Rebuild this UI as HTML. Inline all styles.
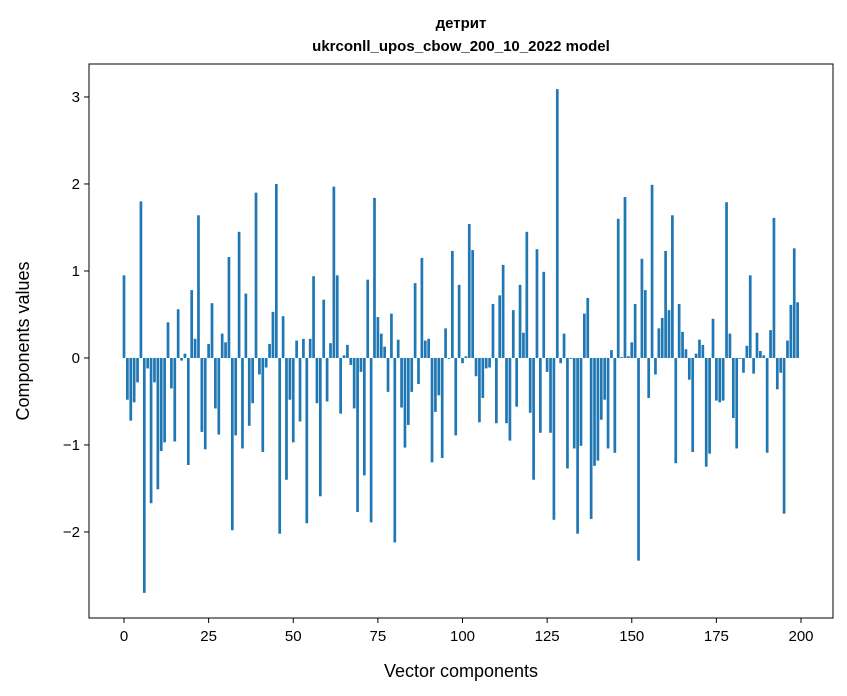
<!DOCTYPE html>
<html><head><meta charset="utf-8"><style>
body{margin:0;background:#fff;}
svg{display:block;font-family:"Liberation Sans","DejaVu Sans",sans-serif;}
</style></head><body>
<svg id="chart" width="847" height="696" viewBox="0 0 847 696">
<text x="461" y="28" text-anchor="middle" font-size="15" font-weight="bold">детрит</text>
<text x="461" y="51" text-anchor="middle" font-size="15" font-weight="bold">ukrconll_upos_cbow_200_10_2022 model</text>
<g id="bars"></g>
<g id="axes"></g>
<rect x="89" y="64" width="744" height="554" fill="none" stroke="#000" stroke-width="1"/>
<text x="461" y="677" text-anchor="middle" font-size="18">Vector components</text>
<text transform="translate(29,341) rotate(-90)" text-anchor="middle" font-size="18">Components values</text>
</svg>
<script>
const values = [0.95,-0.48,-0.72,-0.51,-0.28,1.80,-2.70,-0.12,-1.67,-0.28,
-1.51,-1.07,-0.97,0.41,-0.35,-0.96,0.56,-0.03,0.05,-1.23,
0.78,0.22,1.64,-0.85,-1.05,0.16,0.63,-0.58,-0.88,0.28,
0.18,1.16,-1.98,-0.89,1.45,-1.04,0.74,-0.78,-0.52,1.90,
-0.19,-1.08,-0.11,0.16,0.53,2.00,-2.02,0.48,-1.40,-0.48,
-0.97,0.20,-0.73,0.22,-1.90,0.22,0.94,-0.52,-1.59,0.67,
-0.50,0.17,1.97,0.95,-0.64,0.03,0.15,-0.08,-0.58,-1.77,
-0.16,-1.35,0.90,-1.89,1.84,0.47,0.28,0.13,-0.39,0.51,
-2.12,0.21,-0.57,-1.03,-0.77,-0.39,0.86,-0.30,1.15,0.20,
0.22,-1.20,-0.62,-0.43,-1.15,0.34,-0.01,1.23,-0.89,0.84,
-0.06,0.02,1.54,1.24,-0.21,-0.74,-0.46,-0.12,-0.11,0.62,
-0.75,0.72,1.07,-0.75,-0.95,0.55,-0.56,0.84,0.29,1.45,
-0.63,-1.40,1.25,-0.86,0.99,-0.16,-0.86,-1.86,3.09,-0.06,
0.28,-1.27,-0.01,-1.04,-2.02,-1.01,0.51,0.69,-1.85,-1.24,
-1.18,-0.71,-0.48,-1.04,0.09,-1.09,1.60,0.01,1.85,0.02,
0.18,0.62,-2.33,1.14,0.78,-0.46,1.99,-0.19,0.34,0.46,
1.23,0.55,1.64,-1.21,0.62,0.30,0.10,-0.25,-1.08,0.05,
0.21,0.15,-1.25,-1.10,0.45,-0.49,-0.51,-0.49,1.79,0.28,
-0.69,-1.04,-0.01,-0.17,0.14,0.95,-0.18,0.29,0.08,0.03,
-1.09,0.32,1.61,-0.36,-0.17,-1.79,0.20,0.61,1.26,0.64];
const xTicks = [0,25,50,75,100,125,150,175,200];
const yTicks = [-2,-1,0,1,2,3];
const yTickLabels = ["\u22122","\u22121","0","1","2","3"];

const NS="http://www.w3.org/2000/svg";
const L=89,R=833,T=64,B=618;
const x0=-10.34,x1=209.45,y0=-2.989,y1=3.379;
function xs(v){return L+(v-x0)/(x1-x0)*(R-L);}
function ys(v){return B-(v-y0)/(y1-y0)*(B-T);}
const bars=document.getElementById('bars');
values.forEach((v,i)=>{
  const r=document.createElementNS(NS,'rect');
  const a=xs(i-0.4),b=xs(i+0.4);
  r.setAttribute('x',a);r.setAttribute('width',b-a);
  r.setAttribute('y',Math.min(ys(v),ys(0)));
  r.setAttribute('height',Math.abs(ys(v)-ys(0)));
  r.setAttribute('fill','#1f77b4');
  
  
  bars.appendChild(r);
});
const axes=document.getElementById('axes');
xTicks.forEach(t=>{
  const X=xs(t);
  const l=document.createElementNS(NS,'line');
  l.setAttribute('x1',X);l.setAttribute('x2',X);l.setAttribute('y1',B);l.setAttribute('y2',B+5);
  l.setAttribute('stroke','#000');
  
  
  axes.appendChild(l);
  const tx=document.createElementNS(NS,'text');
  tx.setAttribute('x',X);tx.setAttribute('y',B+23);tx.setAttribute('text-anchor','middle');tx.setAttribute('font-size','15');
  tx.textContent=t;
  
  
  axes.appendChild(tx);
});
yTicks.forEach((t,i)=>{
  const Y=ys(t);
  const l=document.createElementNS(NS,'line');
  l.setAttribute('x1',L-5);l.setAttribute('x2',L);l.setAttribute('y1',Y);l.setAttribute('y2',Y);
  l.setAttribute('stroke','#000');
  
  
  axes.appendChild(l);
  const tx=document.createElementNS(NS,'text');
  tx.setAttribute('x',L-9);tx.setAttribute('y',Y+5);tx.setAttribute('text-anchor','end');tx.setAttribute('font-size','15');
  tx.textContent=yTickLabels[i];
  
  
  axes.appendChild(tx);
});
</script>
</body></html>
